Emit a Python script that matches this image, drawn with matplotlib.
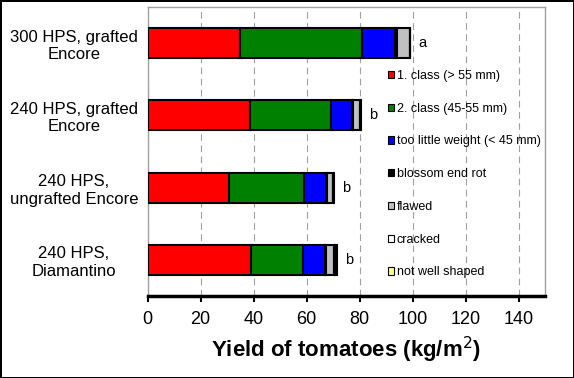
import matplotlib
matplotlib.use('Agg')
import matplotlib.pyplot as plt
import numpy as np

plt.rcParams['font.family'] = ['Liberation Sans', 'DejaVu Sans']

# treatments, top to bottom
treatments = ['300 HPS, grafted\nEncore', '240 HPS, grafted\nEncore',
              '240 HPS,\nungrafted Encore', '240 HPS,\nDiamantino']
letters = ['a', 'b', 'b', 'b']

# yield components (kg/m2)
class1 = [35.0, 38.7, 30.8, 38.9]
class2 = [46.0, 30.4, 28.4, 19.8]
small = [12.4, 8.2, 8.1, 8.1]
blossom = [0.8, 0.3, 0.4, 0.4]
flawed = [4.8, 2.7, 2.3, 3.1]
cracked = [0.0, 0.0, 0.0, 0.3]
shaped = [0.2, 0.3, 0.3, 0.9]

series = [class1, class2, small, blossom, flawed, cracked, shaped]
names = ['1. class (> 55 mm)', '2. class (45-55 mm)', 'too little weight (< 45 mm)',
         'blossom end rot', 'flawed', 'cracked', 'not well shaped']
colors = ['#ff0000', '#008000', '#0000ff', '#000000', '#c0c0c0', '#ffffff', '#ffff99']

fig = plt.figure(figsize=(5.74, 3.78), dpi=100, edgecolor='black', linewidth=2)
ax = fig.add_axes([0.257, 0.217, 0.6925, 0.764])

y = np.arange(len(treatments))
left = np.zeros(len(treatments))
for vals, name, col in zip(series, names, colors):
    ax.barh(y, vals, height=0.415, left=left, color=col, edgecolor='black',
            linewidth=1.5, label=name, zorder=3)
    left = left + np.array(vals)

for yi, tot, let in zip(y, left, letters):
    ax.text(tot + 4.5, yi, let, ha='center', va='center', fontsize=10.5)

ax.set_xlim(0, 150)
ax.set_ylim(3.5, -0.5)
ax.set_xticks(np.arange(0, 141, 20))
ax.tick_params(axis='x', labelsize=13, length=4, width=1.5, direction='out', pad=7)
ax.set_yticks(y)
ax.set_yticklabels(treatments, fontsize=12, ha='center', multialignment='center')
ax.tick_params(axis='y', length=0, pad=53)
ax.grid(axis='x', color='#a0a0a0', linestyle=(0, (6, 4)), linewidth=0.8, zorder=0)

for s in ['top', 'right', 'left']:
    ax.spines[s].set_color('#a0a0a0')
    ax.spines[s].set_linewidth(1)
ax.spines['bottom'].set_linewidth(2.5)

ax.set_xlabel('Yield of tomatoes (kg/m$^{2}$)', fontsize=16, fontweight='bold', labelpad=5)

leg = ax.legend(loc='upper left', bbox_to_anchor=(0.592, 0.8), frameon=False,
                fontsize=9, handlelength=0.5, handleheight=0.5, handletextpad=0.2,
                labelspacing=1.66, borderaxespad=0)
for h in leg.legend_handles:
    h.set_linewidth(0.8)

fig.savefig('out.png', dpi=100)
